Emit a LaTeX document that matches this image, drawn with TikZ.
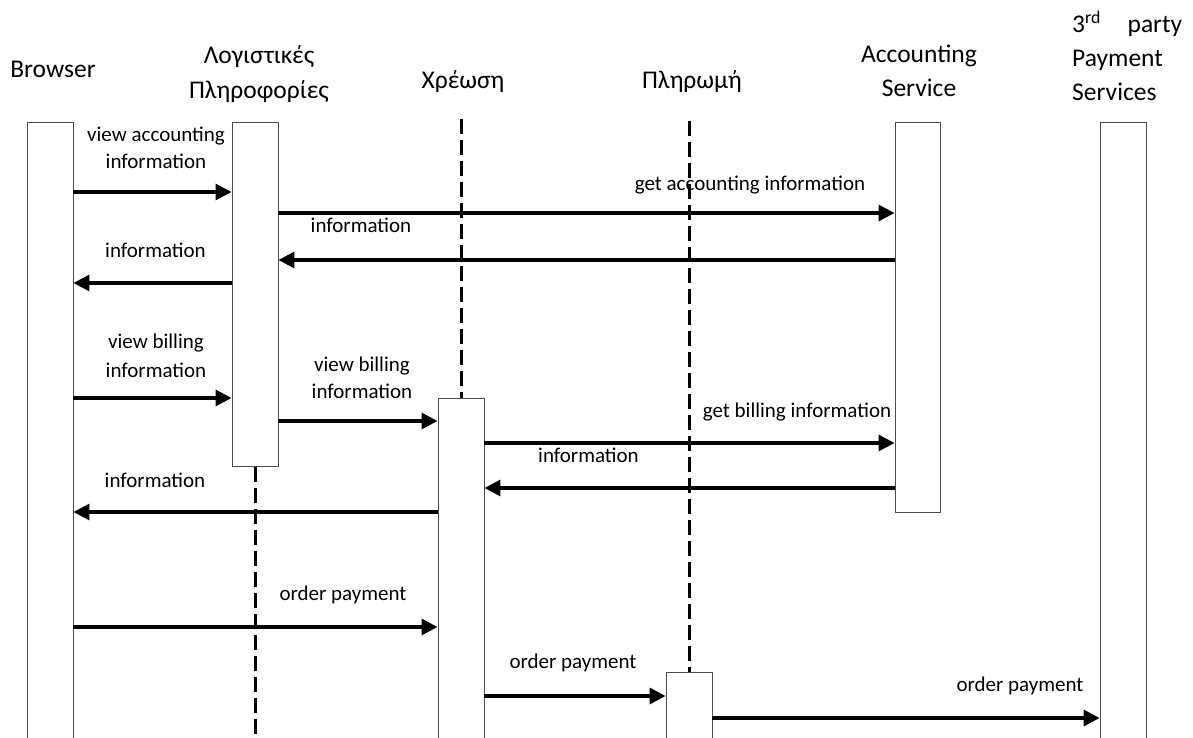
\documentclass[tikz,border=0pt]{standalone}
\usepackage{fontspec}
\setmainfont{Carlito}
\usetikzlibrary{arrows.meta}

\begin{document}
\begin{tikzpicture}[x=1pt,y=-1pt,
  lifebox/.style={draw=black!70,line width=0.9pt,fill=white,inner sep=0pt,minimum width=46pt,anchor=north},
  lifeline/.style={line width=3pt,dash pattern=on 15pt off 6pt},
  msg/.style={line width=3.3pt,-{Triangle[length=16pt,width=16pt]}},
  head/.style={font=\fontsize{25.5}{30}\selectfont,inner sep=0pt,anchor=base},
  lbl/.style={font=\fontsize{21}{25}\selectfont,inner sep=0pt,anchor=base}]
\useasboundingbox (0,0) rectangle (1193,738);

% column headings
\node[head] (hBrw) at (53,78) {Browser};
\node[head] (hLogA) at (259,64) {Λογιστικές};
\node[head] (hLogB) at (259,99) {Πληροφορίες};
\node[head] (hChr) at (463,89) {Χρέωση};
\node[head] (hPlr) at (692,89) {Πληρωμή};
\node[head] (hAccA) at (919,63) {Accounting};
\node[head] (hAccB) at (919,97) {Service};
\node[head,anchor=base west] (hTppA) at (1072,33) {\hbox to 110pt{3\textsuperscript{rd}\hfill party}};
\node[head,anchor=base west] (hTppB) at (1072,67) {Payment};
\node[head,anchor=base west] (hTppC) at (1072,101) {Services};

% free ends of the dashed lifelines
\coordinate (logEnd) at (255,745);
\coordinate (chrTop) at (461,119);
\coordinate (plrTop) at (689,121);

% activation boxes
\node[lifebox,minimum height=630pt] (brw) at (50,122) {};
\node[lifebox,minimum height=344pt] (log) at (255,122) {};
\node[lifebox,minimum height=352pt] (chr) at (461,398) {};
\node[lifebox,minimum height=80pt] (plr) at (689,672) {};
\node[lifebox,minimum height=390pt,minimum width=45pt] (acc) at (917.5,122) {};
\node[lifebox,minimum height=630pt] (tpp) at (1123,122) {};

\draw[lifeline] (log.south) -- (logEnd);
\draw[lifeline] (chrTop) -- (chr.north);
\draw[lifeline] (plrTop) -- (plr.north);

% message rows
\coordinate (m1) at (0,192);
\coordinate (m2) at (0,213);
\coordinate (m3) at (0,260);
\coordinate (m4) at (0,283);
\coordinate (m5) at (0,398);
\coordinate (m6) at (0,421);
\coordinate (m7) at (0,443);
\coordinate (m8) at (0,488);
\coordinate (m9) at (0,512);
\coordinate (m10) at (0,627);
\coordinate (m11) at (0,696);
\coordinate (m12) at (0,718);

% messages
\draw[msg] (brw.east |- m1) -- (log.west |- m1);
\draw[msg] (log.east |- m2) -- (acc.west |- m2);
\draw[msg] (acc.west |- m3) -- (log.east |- m3);
\draw[msg] (log.west |- m4) -- (brw.east |- m4);
\draw[msg] (brw.east |- m5) -- (log.west |- m5);
\draw[msg] (log.east |- m6) -- (chr.west |- m6);
\draw[msg] (chr.east |- m7) -- (acc.west |- m7);
\draw[msg] (acc.west |- m8) -- (chr.east |- m8);
\draw[msg] (chr.west |- m9) -- (brw.east |- m9);
\draw[msg] (brw.east |- m10) -- (chr.west |- m10);
\draw[msg] (chr.east |- m11) -- (plr.west |- m11);
\draw[msg] (plr.east |- m12) -- (tpp.west |- m12);

% message labels
\node[lbl] (t1a) at (156,142) {view accounting};
\node[lbl] (t1b) at (156,169) {information};
\node[lbl] (t2) at (750,190) {get accounting information};
\node[lbl] (t3) at (361,232) {information};
\node[lbl] (t4) at (155.5,257) {information};
\node[lbl] (t5a) at (156,348) {view billing};
\node[lbl] (t5b) at (156,377) {information};
\node[lbl] (t6a) at (362,371) {view billing};
\node[lbl] (t6b) at (362,398) {information};
\node[lbl] (t7) at (797,417) {get billing information};
\node[lbl] (t8) at (588.5,462) {information};
\node[lbl] (t9) at (155,487) {information};
\node[lbl] (t10) at (343,600) {order payment};
\node[lbl] (t11) at (573,668) {order payment};
\node[lbl] (t12) at (1020,691) {order payment};
\end{tikzpicture}
\end{document}
